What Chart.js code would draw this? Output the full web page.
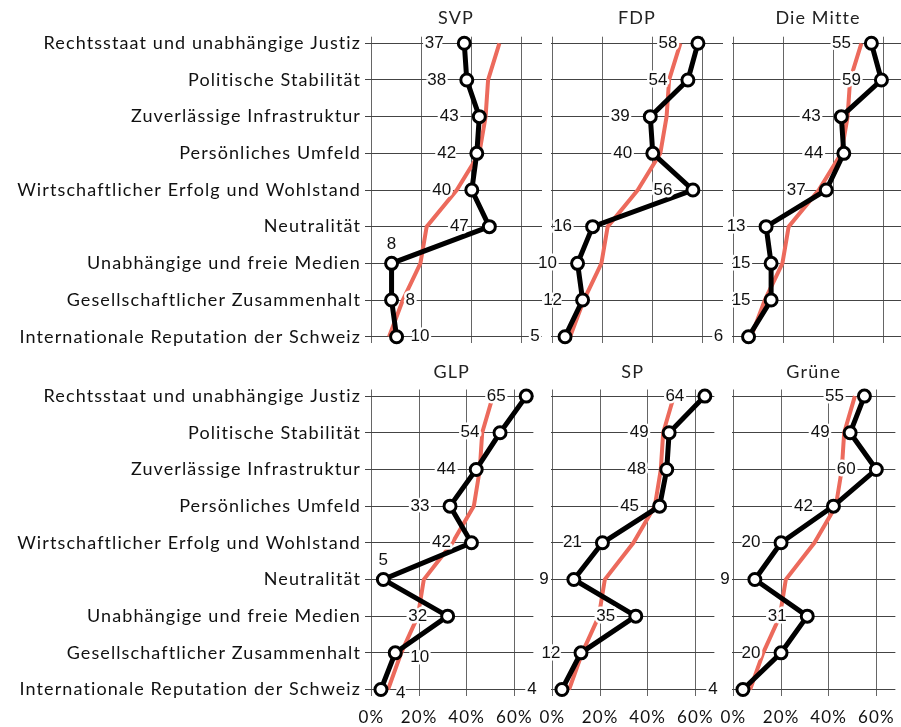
<!DOCTYPE html>
<html><head><meta charset="utf-8">
<script src="https://cdn.jsdelivr.net/npm/chart.js@4.4.1/dist/chart.umd.min.js"></script>
<style>
html,body{margin:0;padding:0;background:#fff;width:901px;height:727px;overflow:hidden;position:relative}
canvas{position:absolute}
</style></head><body>
<script>
const categories = [
  "Rechtsstaat und unabhängige Justiz",
  "Politische Stabilität",
  "Zuverlässige Infrastruktur",
  "Persönliches Umfeld",
  "Wirtschaftlicher Erfolg und Wohlstand",
  "Neutralität",
  "Unabhängige und freie Medien",
  "Gesellschaftlicher Zusammenhalt",
  "Internationale Reputation der Schweiz"
];
const parties = ["SVP", "FDP", "Die Mitte", "GLP", "SP", "Grüne"];
const svpValues    = [37, 38, 43, 42, 40, 47, 8, 8, 10];
const fdpValues    = [58, 54, 39, 40, 56, 16, 10, 12, 5];
const mitteValues  = [55, 59, 43, 44, 37, 13, 15, 15, 6];
const glpValues    = [65, 54, 44, 33, 42, 5, 32, 10, 4];
const spValues     = [64, 49, 48, 45, 21, 9, 35, 12, 4];
const grueneValues = [55, 49, 60, 42, 20, 9, 31, 20, 4];
const overallValues = [51, 46.5, 45.5, 43, 34, 22, 19.5, 12.5, 7];
const xTickValues = [0, 20, 40, 60];

const partyValues = [svpValues, fdpValues, mitteValues, glpValues, spValues, grueneValues];

// label placement (style): L = left, T = top, R = right, RB = right-below
const labelPlacement = [
  ['L','L','L','L','L','L','T','R','R'],
  ['L','L','L','L','L','L','L','L','L'],
  ['L','L','L','L','L','L','L','L','L'],
  ['L','L','L','L','L','T','L','RB','RB'],
  ['L','L','L','L','L','L','L','L','L'],
  ['L','L','L','L','L','L','L','L','L']
];

const GEO_FONT = 'Lato, "DejaVu Sans", sans-serif';
const NUM_FONT = '"Liberation Sans", Arial, sans-serif';
const LETTER_SP = '1.1px';

const COL_ZERO = [371.5, 552, 733];
const PX_PER_PCT = 2.5;
const X_MIN = -0.6, X_MAX = 68;
const AREA_W = (X_MAX - X_MIN) * PX_PER_PCT;
const ROW_AREA_TOP = [36.7, 389.5];
const AREA_H = 306.6;
const CANVAS_TOP = [0, 350];
const CANVAS_H = [364, 377];
const TITLE_Y = [18, 21.7];

const decoPlugin = {
  id: 'panelDeco',
  beforeDraw(chart) { chart.ctx.letterSpacing = LETTER_SP; },
  afterDatasetsDraw(chart, args, opts) {
    const ctx = chart.ctx;
    const meta = chart.getDatasetMeta(0);
    const vals = chart.data.datasets[0].data;
    ctx.save();
    ctx.letterSpacing = '0px';
    ctx.font = '17px ' + NUM_FONT;
    ctx.lineJoin = 'round';
    meta.data.forEach((pt, i) => {
      const p = opts.placement[i];
      let x = pt.x, y = pt.y, align = 'center';
      if (p === 'L') x -= 30;
      else if (p === 'T') y -= 19;
      else if (p === 'R') { x += 14; align = 'left'; }
      else if (p === 'RB') { x += 15; y += 4; align = 'left'; }
      ctx.textAlign = align; ctx.textBaseline = 'middle';
      const t = String(vals[i].x);
      ctx.strokeStyle = '#fff'; ctx.lineWidth = 5; ctx.strokeText(t, x, y);
      ctx.fillStyle = '#111'; ctx.fillText(t, x, y);
    });
    ctx.letterSpacing = LETTER_SP;
    ctx.font = '18px ' + GEO_FONT;
    ctx.textAlign = 'center'; ctx.textBaseline = 'middle';
    ctx.fillStyle = '#222';
    ctx.fillText(opts.title, (chart.chartArea.left + chart.chartArea.right) / 2, opts.titleY);
    ctx.restore();
  }
};

parties.forEach((party, i) => {
  const col = i % 3, row = Math.floor(i / 3);
  const areaLeft = COL_ZERO[col] + X_MIN * PX_PER_PCT;
  const canvasLeft = col === 0 ? 0 : areaLeft - 50;
  const yAxisW = areaLeft - canvasLeft;
  const cw = Math.ceil(yAxisW + AREA_W);
  const ch = CANVAS_H[row];
  const padTop = ROW_AREA_TOP[row] - CANVAS_TOP[row];
  const xAxisH = ch - padTop - AREA_H;

  const cv = document.createElement('canvas');
  cv.width = cw; cv.height = ch;
  cv.style.left = canvasLeft + 'px';
  cv.style.top = CANVAS_TOP[row] + 'px';
  cv.style.width = cw + 'px'; cv.style.height = ch + 'px';
  document.body.appendChild(cv);

  const values = partyValues[i];
  new Chart(cv, {
    type: 'line',
    data: {
      datasets: [
        {
          data: values.map((v, k) => ({ x: v, y: k })),
          borderColor: '#000', borderWidth: 5,
          pointRadius: 6, pointBorderWidth: 3,
          pointBackgroundColor: '#fff', pointBorderColor: '#000',
          tension: 0, clip: false
        },
        {
          data: overallValues.map((v, k) => ({ x: v, y: k })),
          borderColor: '#ec6a5c', borderWidth: 4,
          pointRadius: 0, tension: 0
        }
      ]
    },
    options: {
      responsive: false,
      animation: false,
      devicePixelRatio: 1,
      layout: { autoPadding: false, padding: { top: padTop, left: 0, right: 0, bottom: 0 } },
      plugins: {
        legend: { display: false },
        tooltip: { enabled: false },
        panelDeco: { placement: labelPlacement[i], title: party, titleY: TITLE_Y[row] }
      },
      scales: {
        x: {
          type: 'linear', min: X_MIN, max: X_MAX,
          afterBuildTicks: s => { s.ticks = xTickValues.map(v => ({ value: v })); },
          afterFit: s => { s.height = xAxisH; },
          grid: { color: '#666', lineWidth: 1, drawTicks: false },
          border: { display: false },
          ticks: {
            display: row === 1, padding: 11, color: '#111',
            font: { family: GEO_FONT, size: 17 },
            callback: v => v + '%'
          }
        },
        y: {
          type: 'linear', min: -0.18, max: 8.18, reverse: true,
          afterBuildTicks: s => { s.ticks = categories.map((c, k) => ({ value: k })); },
          afterFit: s => { s.width = yAxisW; },
          grid: { color: '#444', lineWidth: 1, drawTicks: col === 0, tickLength: 5 },
          border: { display: false },
          ticks: {
            display: col === 0, autoSkip: false, padding: 4, color: '#111',
            font: { family: GEO_FONT, size: 18 },
            callback: v => categories[v]
          }
        }
      }
    },
    plugins: [decoPlugin]
  });
});
</script>
</body></html>
